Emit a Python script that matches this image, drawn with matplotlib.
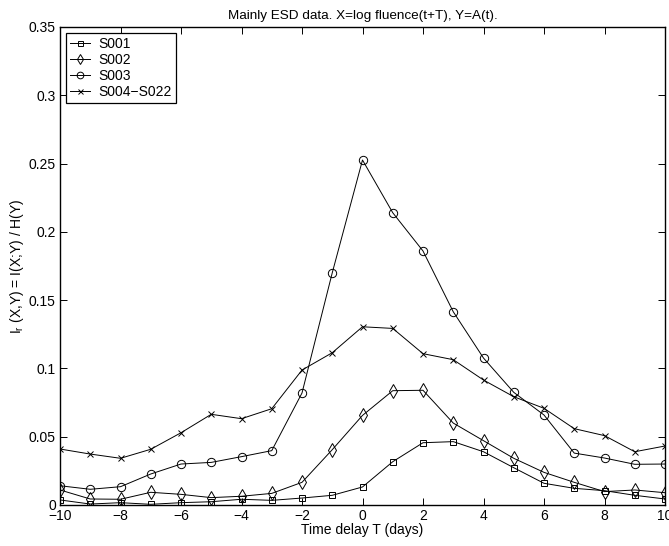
import numpy as np
import matplotlib.pyplot as plt

plt.rcParams['font.family'] = ['Liberation Sans', 'DejaVu Sans']
plt.rcParams['font.size'] = 10
plt.rcParams['mathtext.default'] = 'regular'

# time delay (days)
T = np.arange(-10, 11)

s001 = [0.0037, 0.0007, 0.0017, 0.0005, 0.0017, 0.0024, 0.0042, 0.0034, 0.0051, 0.0071, 0.0132,
        0.0317, 0.0456, 0.0464, 0.0390, 0.0273, 0.0159, 0.0122, 0.0105, 0.0071, 0.0044]
s002 = [0.0110, 0.0044, 0.0042, 0.0093, 0.0078, 0.0054, 0.0064, 0.0085, 0.0166, 0.0405, 0.0656,
        0.0837, 0.0840, 0.0600, 0.0471, 0.0342, 0.0239, 0.0166, 0.0098, 0.0110, 0.0090]
s003 = [0.0141, 0.0115, 0.0134, 0.0227, 0.0300, 0.0312, 0.0354, 0.0398, 0.0820, 0.1700, 0.2526,
        0.2140, 0.1860, 0.1415, 0.1076, 0.0825, 0.0659, 0.0380, 0.0344, 0.0298, 0.0300]
s004 = [0.0410, 0.0373, 0.0342, 0.0408, 0.0529, 0.0664, 0.0632, 0.0705, 0.0988, 0.1115, 0.1305,
        0.1293, 0.1108, 0.1064, 0.0915, 0.0793, 0.0708, 0.0559, 0.0508, 0.0390, 0.0432]

labels = ['S001', 'S002', 'S003', 'S004\u2212S022']
yticks = [0, 0.05, 0.1, 0.15, 0.2, 0.25, 0.3, 0.35]
ytick_labels = ['0', '0.05', '0.1', '0.15', '0.2', '0.25', '0.3', '0.35']
xticks = [-10, -8, -6, -4, -2, 0, 2, 4, 6, 8, 10]

fig = plt.figure(figsize=(6.69, 5.46), dpi=100)
ax = fig.add_axes([60 / 669, 41 / 546, 605 / 669, 478 / 546])

kw = dict(color='k', lw=0.7, mfc='none', mec='k', mew=0.7)
ax.plot(T, s001, marker='s', ms=4.5, label=labels[0], **kw)
ax.plot(T, s002, marker='d', ms=7, label=labels[1], **kw)
ax.plot(T, s003, marker='o', ms=6, label=labels[2], **kw)
ax.plot(T, s004, marker='x', ms=4.5, label=labels[3], **kw)

ax.set_xlim(-10, 10)
ax.set_ylim(0, 0.35)
ax.set_xticks(xticks)
ax.set_xticklabels([str(v).replace('-', '\u2212') for v in xticks])
ax.set_yticks(yticks)
ax.set_yticklabels(ytick_labels)
ax.tick_params(direction='in', top=True, right=True, length=5, width=0.7, pad=3)
for s in ax.spines.values():
    s.set_linewidth(1.0)

ax.set_xlabel('Time delay T (days)', labelpad=0)
ax.set_ylabel('I$_r$ (X,Y) = I(X;Y) / H(Y)', labelpad=2)
ax.set_title('Mainly ESD data. X=log fluence(t+T), Y=A(t).', fontsize=9.7, pad=6)

leg = ax.legend(loc='upper left', fancybox=False, edgecolor='k', framealpha=1,
                borderaxespad=0.4, handlelength=1.45, labelspacing=0.15, borderpad=0.3,
                handletextpad=0.6, markerscale=0.8)
leg.get_frame().set_linewidth(0.9)

fig.savefig('out.png', dpi=100)
